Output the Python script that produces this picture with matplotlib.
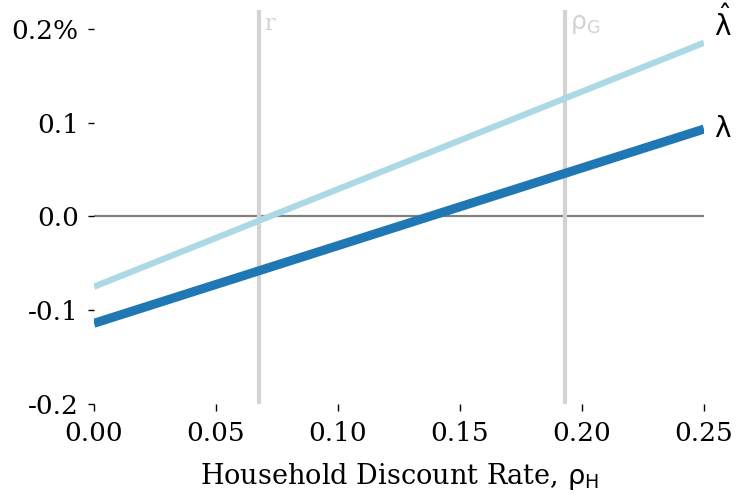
import numpy as np
import matplotlib
matplotlib.use("Agg")
import matplotlib.pyplot as plt

plt.rcParams['font.family'] = ['DejaVu Serif']
plt.rcParams['mathtext.fontset'] = 'dejavusans'

# discount rate range and the two wedge lines (in percent)
rho_h = [0.0, 0.25]
lam = [-0.114, 0.093]
lam_hat = [-0.075, 0.185]

r_value = 0.0676
rho_g_value = 0.193

yticks = [-0.2, -0.1, 0.0, 0.1, 0.2]
ytick_labels = ['-0.2', '-0.1', '0.0', '0.1', '0.2%']
xticks = [0.0, 0.05, 0.10, 0.15, 0.20, 0.25]
xtick_labels = ['0.00', '0.05', '0.10', '0.15', '0.20', '0.25']

fig = plt.figure(figsize=(7.36, 4.96), dpi=100)
ax = fig.add_axes([0.1277, 0.1855, 0.8288, 0.7945])

ax.axhline(0, color='grey', lw=1.6, zorder=1)
ax.axvline(r_value, color='lightgray', lw=3, zorder=1)
ax.axvline(rho_g_value, color='lightgray', lw=3, zorder=1)

ax.plot(rho_h, lam_hat, color='lightblue', lw=4.5, solid_capstyle='butt', zorder=2)
ax.plot(rho_h, lam, color='#1f77b4', lw=6.5, solid_capstyle='butt', zorder=3)

ax.text(r_value + 0.002, 0.217, 'r', color='lightgray', fontsize=16, va='top')
ax.text(rho_g_value + 0.002, 0.217, r'$\mathrm{\rho_G}$', color='lightgray', fontsize=18, va='top')
ax.text(0.254, lam_hat[1] + 0.001, r'$\mathrm{\hat{\lambda}}$', fontsize=20, va='bottom', ha='left')
ax.text(0.254, lam[1], r'$\mathrm{\lambda}$', fontsize=20, va='center', ha='left')

ax.set_xlim(0, 0.25)
ax.set_ylim(-0.2, 0.22)
ax.set_yticks(yticks)
ax.set_yticklabels(ytick_labels)
ax.set_xticks(xticks)
ax.set_xticklabels(xtick_labels)
ax.tick_params(axis='y', length=4, width=1, pad=7, labelsize=19)
ax.tick_params(axis='x', length=5, width=1, pad=7, labelsize=19)
ax.set_xlabel(r'Household Discount Rate, $\mathrm{\rho_H}$', fontsize=19.5, labelpad=11)

for side in ['top', 'right', 'left', 'bottom']:
    ax.spines[side].set_visible(False)

fig.savefig('out.png', dpi=100)
